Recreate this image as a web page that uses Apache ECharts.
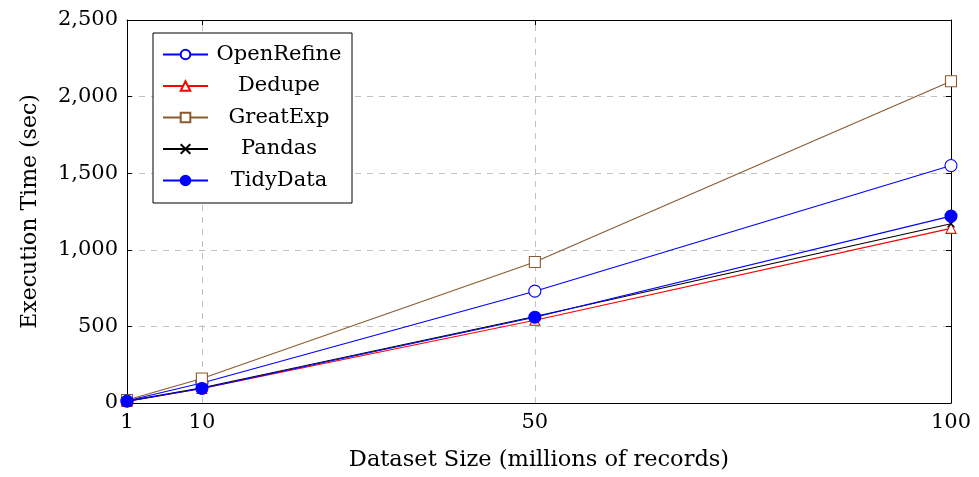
<!DOCTYPE html>
<html><head><meta charset="utf-8">
<script src="https://cdn.jsdelivr.net/npm/echarts@6/dist/echarts.min.js"></script>
<style>html,body{margin:0;padding:0;background:#fff}#c{width:979px;height:477px}</style>
</head><body><div id="c"></div>
<script>
const sizes = [1, 10, 50, 100];
const xTicks = [1, 10, 50, 100];
const yTicks = [0, 500, 1000, 1500, 2000, 2500];
const openRefine = [15, 130, 730, 1550];
const dedupe = [10, 95, 540, 1140];
const greatExp = [20, 160, 920, 2100];
const pandas = [12, 100, 565, 1170];
const tidyData = [12, 95, 560, 1220];

const font = '"DejaVu Serif", "Liberation Serif", serif';
const pts = a => sizes.map((x, i) => [x, a[i]]);
const crossPath = 'path://M0,0L10,10M10,0L0,10';

function mk(name, data, color, symbol, size, fill) {
  return {
    name, type: 'line', data: pts(data), symbol, symbolSize: size,
    lineStyle: { color, width: 1.1 },
    itemStyle: { color: fill ? color : '#fff', borderColor: color, borderWidth: 1.1 },
    emphasis: { disabled: true }, z: 3
  };
}
const series = [
  mk('OpenRefine', openRefine, '#0000ff', 'circle', 12, false),
  mk('Dedupe', dedupe, '#ff0000', 'triangle', 10, false),
  mk('GreatExp', greatExp, '#8a5a30', 'rect', 11, false),
  mk('Pandas', pandas, '#000000', crossPath, 7, false),
  mk('TidyData', tidyData, '#0000ff', 'circle', 12, true)
];
series[3].itemStyle = { color: 'none', borderColor: '#000', borderWidth: 1.1 };
series[0].markLine = {
  silent: true, symbol: 'none', label: { show: false },
  lineStyle: { color: '#c0c0c0', type: [6, 6], width: 1 },
  data: [{ xAxis: 10 }, { xAxis: 50 }], z: 1
};

const chart = echarts.init(document.getElementById('c'));
chart.setOption({
  animation: false,
  grid: { left: 127, right: 28, top: 20, bottom: 74 },
  legend: {
    left: 153, top: 33, orient: 'vertical',
    backgroundColor: '#fff', borderColor: '#000', borderWidth: 1,
    padding: [11, 7, 12, 9], itemGap: 10.5, itemWidth: 45, itemHeight: 12,
    formatter: n => '{a|' + n + '}',
    textStyle: { fontFamily: font, fontSize: 21, color: '#000',
      rich: { a: { width: 132, align: 'center', lineHeight: 22, fontFamily: font, fontSize: 21, color: '#000' } } },
    data: ['OpenRefine', 'Dedupe', 'GreatExp', 'Pandas', 'TidyData']
  },
  xAxis: [{
    type: 'value', min: 1, max: 100,
    name: 'Dataset Size (millions of records)', nameLocation: 'middle', nameGap: 46,
    nameTextStyle: { fontFamily: font, fontSize: 22.5, color: '#000' },
    axisLine: { show: true, lineStyle: { color: '#000', width: 1 } },
    axisTick: { show: true, inside: true, length: 5, customValues: xTicks, lineStyle: { color: '#000' } },
    axisLabel: { customValues: xTicks, fontFamily: font, fontSize: 21, color: '#000', margin: 9 },
    splitLine: { show: false }
  }, {
    type: 'value', min: 1, max: 100, position: 'top',
    axisLine: { show: true, onZero: false, lineStyle: { color: '#000', width: 1 } },
    axisTick: { show: true, inside: true, length: 5, customValues: xTicks, lineStyle: { color: '#000' } },
    axisLabel: { show: false }, splitLine: { show: false }
  }],
  yAxis: [{
    type: 'value', min: 0, max: 2500, interval: 500,
    name: 'Execution Time (sec)', nameLocation: 'middle', nameGap: 86,
    nameTextStyle: { fontFamily: font, fontSize: 22, color: '#000' },
    axisLine: { show: true, lineStyle: { color: '#000', width: 1 } },
    axisTick: { show: true, inside: true, length: 5, lineStyle: { color: '#000' } },
    axisLabel: { fontFamily: font, fontSize: 21, color: '#000', margin: 9,
      formatter: v => v.toLocaleString('en-US') },
    splitLine: { show: true, lineStyle: { color: '#c0c0c0', type: [6, 6], width: 1 } }
  }, {
    type: 'value', min: 0, max: 2500, interval: 500, position: 'right',
    axisLine: { show: true, onZero: false, lineStyle: { color: '#000', width: 1 } },
    axisTick: { show: true, inside: true, length: 5, lineStyle: { color: '#000' } },
    axisLabel: { show: false }, splitLine: { show: false }
  }],
  series
});
</script></body></html>
